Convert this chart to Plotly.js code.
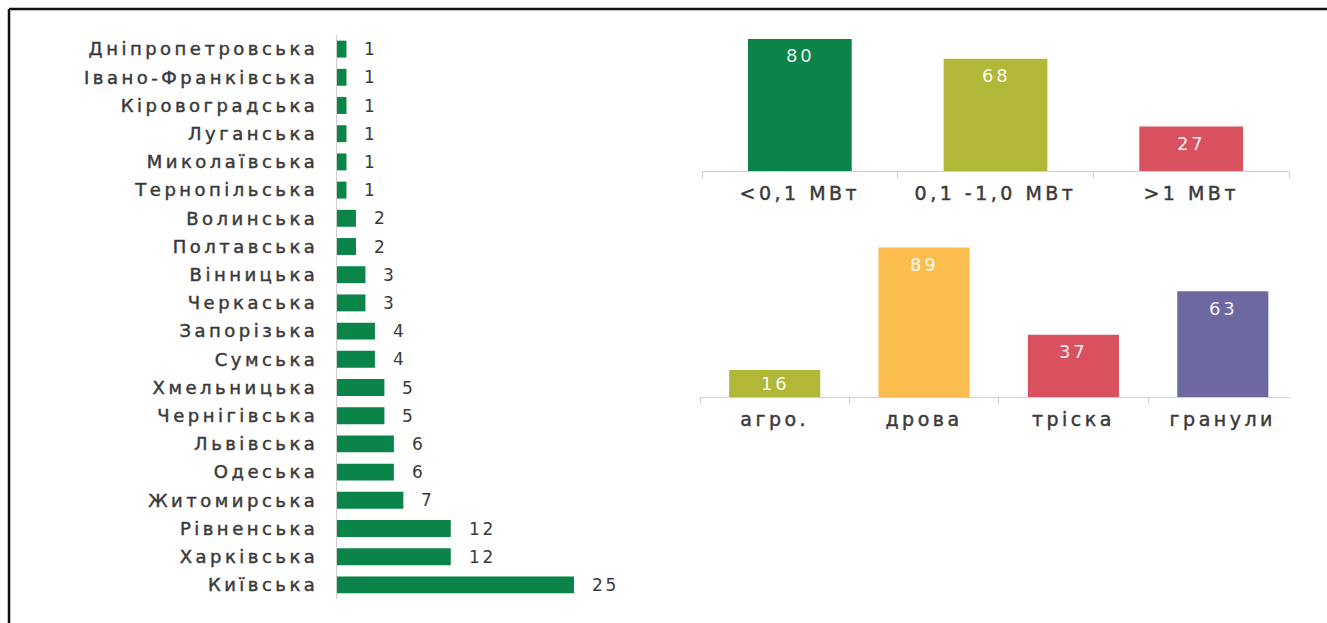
<!DOCTYPE html>
<html>
<head>
<meta charset="utf-8">
<script src="https://cdn.plot.ly/plotly-3.0.1.min.js"></script>
<style>
html,body{margin:0;padding:0;background:#fff;}
#chart{width:1327px;height:623px;}
.ytick text{letter-spacing:3.5px;stroke:#3a3a3a;stroke-width:0.45px;}
.x2tick text, .x3tick text{letter-spacing:3.5px;stroke:#3a3a3a;stroke-width:0.45px;}
text.annotation-text{letter-spacing:2.7px;}
</style>
</head>
<body>
<div id="chart"></div>
<script>
// ---- data ----
const regions = ["Дніпропетровська","Івано-Франківська","Кіровоградська","Луганська","Миколаївська","Тернопільська","Волинська","Полтавська","Вінницька","Черкаська","Запорізька","Сумська","Хмельницька","Чернігівська","Львівська","Одеська","Житомирська","Рівненська","Харківська","Київська"];
const regionValues = [1,1,1,1,1,1,2,2,3,3,4,4,5,5,6,6,7,12,12,25];

const powerCats = ["<0,1 МВт","0,1 -1,0 МВт",">1 МВт"];
const powerValues = [80,68,27];

const fuelCats = ["агро.","дрова","тріска","гранули"];
const fuelValues = [16,89,37,63];

// ---- styles ----
const W = 1327, H = 623;
const fx = p => p / W;
const fy = p => 1 - p / H;
const GREEN = "#0a8449", OLIVE = "#b1b837", RED = "#d9505f", YELLOW = "#fbbd4e", PURPLE = "#6d69a0";
const TXT = "#3a3a3a";
const FONT = "DejaVu Sans";
const AXC = "#cfcfcf";

// pixel-per-unit of the two right panels (from their domains/ranges below)
const Y2 = {top: 30, base: 171, max: 85.45};
const Y3 = {top: 240, base: 397, max: 93.45};
const ppu2 = (Y2.base - Y2.top) / Y2.max;
const ppu3 = (Y3.base - Y3.top) / Y3.max;

const traces = [
  {
    type: "bar", orientation: "h",
    x: regionValues, y: regions,
    xaxis: "x", yaxis: "y",
    width: 0.6,
    marker: {color: GREEN},
    hoverinfo: "skip"
  },
  {
    type: "bar",
    x: powerCats, y: powerValues,
    xaxis: "x2", yaxis: "y2",
    width: 0.53,
    marker: {color: [GREEN, OLIVE, RED]},
    hoverinfo: "skip"
  },
  {
    type: "bar",
    x: fuelCats, y: fuelValues,
    xaxis: "x3", yaxis: "y3",
    width: 0.61,
    marker: {color: [OLIVE, YELLOW, RED, PURPLE]},
    hoverinfo: "skip"
  }
];

const annotations = [];
regions.forEach((r, i) => annotations.push({
  xref: "x", yref: "y", x: regionValues[i], y: r,
  text: String(regionValues[i]),
  xanchor: "left", yanchor: "middle", xshift: 16,
  showarrow: false,
  font: {family: FONT, size: 17, color: TXT}
}));
const inBar = (cats, vals, xr, yr, ppu) => cats.forEach((c, i) => annotations.push({
  xref: xr, yref: yr, x: c, y: vals[i],
  text: String(vals[i]),
  xanchor: "center", yanchor: "middle",
  yshift: -Math.min(17, vals[i] * ppu / 2),
  showarrow: false,
  font: {family: FONT, size: 18, color: "rgba(255,255,255,0.93)"}
}));
inBar(powerCats, powerValues, "x2", "y2", ppu2);
inBar(fuelCats, fuelValues, "x3", "y3", ppu3);

const hidden = {showgrid: false, zeroline: false, showticklabels: false, showline: false, ticks: "", fixedrange: true};

const catAxis = (dom, rng, anchor) => ({
  domain: dom, type: "category", range: rng, anchor: anchor,
  showgrid: false, zeroline: false,
  showline: true, linecolor: AXC, linewidth: 1,
  ticks: "outside", tickson: "boundaries", ticklen: 6, tickcolor: AXC,
  ticklabelstandoff: 5,
  tickfont: {family: FONT, size: 19, color: TXT}
});

const layout = {
  width: W, height: H,
  margin: {l: 0, r: 0, t: 0, b: 0},
  paper_bgcolor: "#fff", plot_bgcolor: "rgba(0,0,0,0)",
  showlegend: false,
  font: {family: FONT, color: TXT},
  xaxis: Object.assign({domain: [fx(337), fx(640)], range: [0, 31.96]}, hidden),
  yaxis: {
    domain: [fy(599), fy(35)], type: "category",
    categoryorder: "array", categoryarray: regions, autorange: "reversed",
    showgrid: false, zeroline: false, showline: true, linecolor: AXC, linewidth: 1,
    ticks: "", ticklabelstandoff: 14,
    tickfont: {family: FONT, size: 18, color: TXT}
  },
  xaxis2: catAxis([fx(702), fx(1289)], [-0.5, 2.5], "y2"),
  yaxis2: Object.assign({domain: [fy(Y2.base), fy(Y2.top)], range: [0, Y2.max], anchor: "x2"}, hidden),
  xaxis3: catAxis([fx(700), fx(1290)], [-0.5, 3.45], "y3"),
  yaxis3: Object.assign({domain: [fy(Y3.base), fy(Y3.top)], range: [0, Y3.max], anchor: "x3"}, hidden),
  annotations: annotations,
  shapes: [
    {type: "line", xref: "paper", yref: "paper", x0: fx(9), x1: 1.01, y0: fy(9), y1: fy(9), line: {color: "#111", width: 2.5}},
    {type: "line", xref: "paper", yref: "paper", x0: fx(9), x1: fx(9), y0: fy(9), y1: -0.01, line: {color: "#111", width: 2.5}}
  ]
};

Plotly.newPlot("chart", traces, layout, {staticPlot: true, displayModeBar: false});
</script>
</body>
</html>
